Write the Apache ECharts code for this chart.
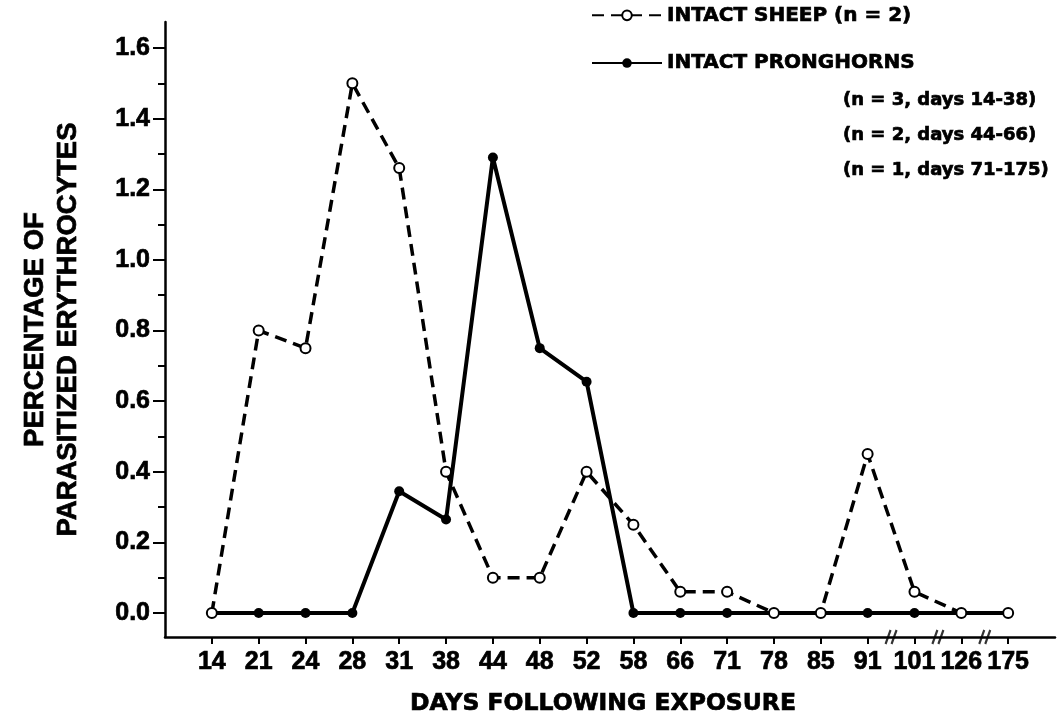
<!DOCTYPE html>
<html>
<head>
<meta charset="utf-8">
<script src="https://cdn.jsdelivr.net/npm/echarts@6/dist/echarts.min.js"></script>
<style>
  html, body { margin: 0; padding: 0; background: #fff; }
  #chart { width: 1058px; height: 726px; }
</style>
</head>
<body>
<div id="chart"></div>
<script>
// 横轴天数
const days = ['14', '21', '24', '28', '31', '38', '44', '48', '52', '58', '66', '71', '78', '85', '91', '101', '126', '175'];
// 绵羊 (n = 2)
const sheepValues = [0, 0.80, 0.75, 1.50, 1.26, 0.40, 0.10, 0.10, 0.40, 0.25, 0.06, 0.06, 0, 0, 0.45, 0.06, 0, 0];
// 叉角羚
const pronghornValues = [0, 0, 0, 0, 0.345, 0.265, 1.29, 0.75, 0.655, 0, 0, 0, 0, 0, 0, 0, 0, 0];
// 横轴断点位置（两个刻度之间）
const breakPositions = [15.5, 16.5, 17.5];
const yTicks = [0, 0.2, 0.4, 0.6, 0.8, 1.0, 1.2, 1.4, 1.6];

const boldFont = '"DejaVu Sans", sans-serif';
const numFont = '"Liberation Sans", Arial, sans-serif';
// 加粗描边，模拟原图的粗黑字体
const heavy = { textBorderColor: '#000', textBorderWidth: 0.7 };

function toPairs(values) {
    return values.map((v, i) => [i + 1, v]);
}

const chart = echarts.init(document.getElementById('chart'));
const option = {
    backgroundColor: '#fff',
    animation: false,
    title: {
        text: '(n = 3, days 14-38)\n(n = 2, days 44-66)\n(n = 1, days 71-175)',
        left: 843,
        top: 83,
        padding: 0,
        textStyle: Object.assign({
            fontFamily: boldFont,
            fontWeight: 'bold',
            fontSize: 18,
            lineHeight: 35,
            color: '#000'
        }, heavy)
    },
    legend: {
        orient: 'vertical',
        left: 591,
        top: 5,
        itemWidth: 70,
        itemHeight: 12,
        itemGap: 27,
        padding: 0,
        data: ['INTACT SHEEP (n = 2)', 'INTACT PRONGHORNS'],
        textStyle: Object.assign({
            fontFamily: boldFont,
            fontWeight: 'bold',
            fontSize: 20,
            color: '#000'
        }, heavy)
    },
    grid: [
        // 外框（坐标轴线）
        { left: 165, right: 3, top: 22, bottom: 89 },
        // 数据区域
        { left: 165, right: 3, top: 48, bottom: 113 }
    ],
    xAxis: [{
        gridIndex: 0,
        type: 'category',
        boundaryGap: false,
        data: [''].concat(days, ['']),
        axisLine: { lineStyle: { color: '#000', width: 2.5 } },
        axisTick: {
            length: 7,
            lineStyle: { color: '#000', width: 2 },
            interval: function (i) { return i > 0 && i <= days.length; }
        },
        axisLabel: Object.assign({
            margin: 13,
            interval: 0,
            fontFamily: numFont,
            fontWeight: 'bold',
            fontSize: 25,
            color: '#000'
        }, heavy),
        splitLine: { show: false },
        name: 'DAYS FOLLOWING EXPOSURE',
        nameLocation: 'middle',
        nameGap: 55,
        nameTextStyle: Object.assign({
            fontFamily: boldFont,
            fontWeight: 'bold',
            fontSize: 23.5,
            color: '#000',
            padding: [0, 14, 0, 0]
        }, heavy)
    }, {
        gridIndex: 0,
        type: 'value',
        min: 0,
        max: days.length + 1,
        show: false
    }, {
        gridIndex: 1,
        type: 'value',
        min: 0,
        max: days.length + 1,
        show: false
    }],
    yAxis: [{
        gridIndex: 0,
        type: 'value',
        min: 0,
        max: 1,
        axisLine: { show: true, lineStyle: { color: '#000', width: 2.5 } },
        axisTick: { show: false },
        axisLabel: { show: false },
        splitLine: { show: false },
        name: 'PERCENTAGE OF\nPARASITIZED ERYTHROCYTES',
        nameLocation: 'middle',
        nameRotate: 90,
        nameGap: 80,
        nameTextStyle: Object.assign({
            fontFamily: numFont,
            fontWeight: 'bold',
            fontSize: 27.5,
            lineHeight: 33,
            color: '#000'
        }, heavy)
    }, {
        gridIndex: 1,
        type: 'value',
        min: yTicks[0],
        max: yTicks[yTicks.length - 1],
        interval: 0.2,
        axisLine: { show: false },
        axisTick: { show: true, length: 12, lineStyle: { color: '#000', width: 2 } },
        minorTick: { show: true, splitNumber: 2, length: 7, lineStyle: { color: '#000', width: 2 } },
        axisLabel: Object.assign({
            margin: 15,
            fontFamily: numFont,
            fontWeight: 'bold',
            fontSize: 25,
            color: '#000',
            formatter: function (v) { return v.toFixed(1); }
        }, heavy),
        splitLine: { show: false }
    }],
    series: [{
        name: 'INTACT PRONGHORNS',
        type: 'line',
        xAxisIndex: 2,
        yAxisIndex: 1,
        data: toPairs(pronghornValues),
        symbol: 'circle',
        symbolSize: 10,
        lineStyle: { color: '#000', width: 4 },
        itemStyle: { color: '#000' },
        z: 3
    }, {
        name: 'INTACT SHEEP (n = 2)',
        type: 'line',
        xAxisIndex: 2,
        yAxisIndex: 1,
        data: toPairs(sheepValues),
        symbol: 'circle',
        symbolSize: 10,
        lineStyle: { color: '#000', width: 3.5, type: [12, 7] },
        itemStyle: { color: '#fff', borderColor: '#000', borderWidth: 2 },
        z: 4
    }, {
        // 横轴断点标记
        type: 'scatter',
        xAxisIndex: 1,
        yAxisIndex: 0,
        silent: true,
        clip: false,
        data: breakPositions.map(p => [p, 0]),
        symbol: 'path://M0,14L5,0M6,14L11,0',
        symbolSize: [11, 14],
        itemStyle: { color: 'none', borderColor: '#000', borderWidth: 2.5 },
        z: 5
    }]
};
chart.setOption(option);
</script>
</body>
</html>
